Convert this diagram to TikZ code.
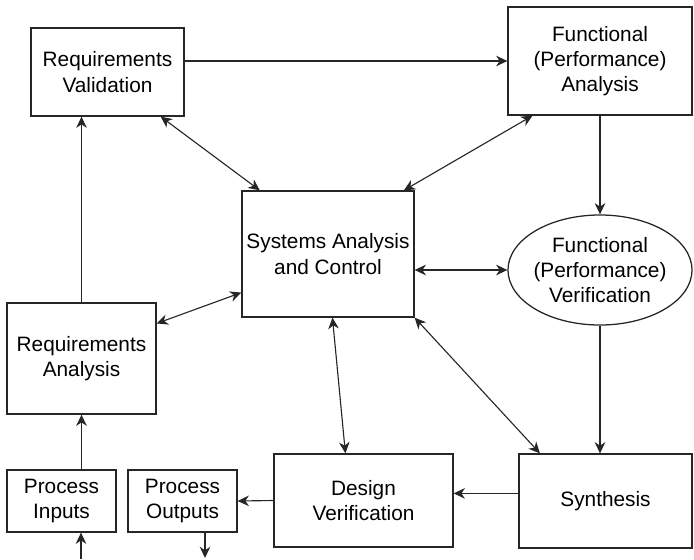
\documentclass[tikz,border=0pt]{standalone}
\usepackage{fontspec}
\setmainfont{Liberation Sans}
\usetikzlibrary{arrows.meta,shapes.geometric}

\begin{document}
\begin{tikzpicture}[x=0.025cm,y=-0.025cm,
    box/.style={draw=black!85,line width=0.9pt,align=center,inner sep=0pt,
      font=\fontsize{14.8}{18}\selectfont},
    tip/.tip={Stealth[length=8pt,width=7.5pt,inset=2.5pt]},
    link/.style={draw=black!85,line width=0.8pt,-tip},
    both/.style={link,tip-tip}]
    \useasboundingbox (0,0) rectangle (694,559);

    \node[box,minimum width=3.825cm,minimum height=2.2cm] (rval) at (107.5, 72) {Requirements\\Validation};
    \node[box,minimum width=4.6cm,minimum height=2.7cm] (fpa) at (600, 61) {Functional\\(Performance)\\Analysis};
    \node[box,minimum width=4.3cm,minimum height=3.15cm] (sac) at (328, 254) {Systems Analysis\\and Control};
    \node[box,ellipse,inner xsep=-2pt,minimum width=4.6cm,minimum height=2.75cm] (fpv) at (600, 270) {Functional\\(Performance)\\Verification};
    \node[box,minimum width=3.725cm,minimum height=2.775cm] (ranal) at (81.5, 358.5) {Requirements\\Analysis};
    \node[box,minimum width=4.325cm,minimum height=2.35cm] (syn) at (605.5, 501) {Synthesis};
    \node[box,minimum width=4.475cm,minimum height=2.325cm] (dver) at (363.5, 500.5) {Design\\Verification};
    \node[box,minimum width=2.725cm,minimum height=1.55cm] (pin) at (61.5, 501) {Process\\Inputs};
    \node[box,minimum width=2.725cm,minimum height=1.55cm] (pout) at (182.5, 501) {Process\\Outputs};

    \coordinate (inp) at (81, 559);
    \coordinate (outp) at (205, 558);

    % main flow
    \draw[link] (inp) -- (inp |- pin.south);
    \draw[link] (ranal.south |- pin.north) -- (ranal.south);
    \draw[link] (ranal.north) -- (ranal.north |- rval.south);
    \draw[link] (rval.east |- fpa.west) -- (fpa.west);
    \draw[link] (fpa.south) -- (fpa.south |- fpv.north);
    \draw[link] (fpv.south) -- (fpv.south |- syn.north);
    \draw[link] (syn.175) -- (syn.175 -| dver.east);
    \draw[link] (dver.west) -- (pout.east);
    \draw[link] (outp |- pout.south) -- (outp);

    % systems analysis and control
    \draw[both] (rval.-40) -- (sac.137);
    \draw[both] (fpa.-141) -- (sac.40);
    \draw[both] (sac.east |- fpv.west) -- (fpv.west);
    \draw[both] (sac.204) -- (ranal.25);
    \draw[both] (sac.-86) -- (dver.111);
    \draw[both] (sac.south east) -- (syn.144);

  \end{tikzpicture}
\end{document}
